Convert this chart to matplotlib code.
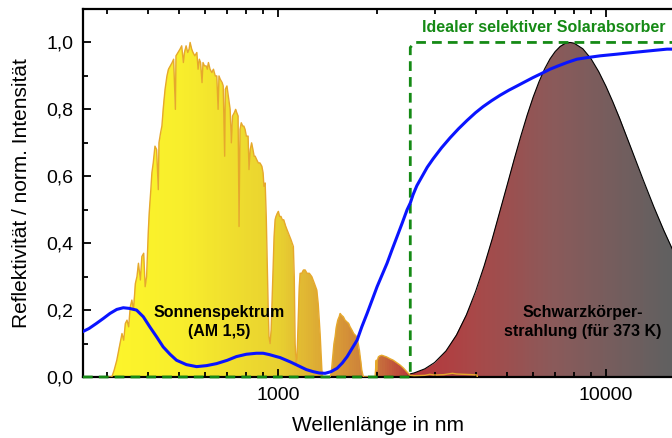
import numpy as np
import matplotlib
matplotlib.use("Agg")
import matplotlib.pyplot as plt
from matplotlib.colors import LinearSegmentedColormap
from matplotlib.patches import Polygon
from matplotlib.ticker import FixedLocator, FuncFormatter, NullFormatter

plt.rcParams["font.family"] = ["Liberation Sans", "DejaVu Sans"]

# AM 1.5 solar spectrum, normalised
solar_nm = [300, 311, 316, 322, 328, 334, 338, 342, 346, 350, 354, 358, 362, 367, 371,
            375, 380, 384, 389, 393, 397, 402, 405, 409, 412, 416, 421, 426, 431, 433,
            438, 442, 447, 452, 458, 463, 469, 475, 480, 486, 488, 495, 502, 508, 514,
            518, 524, 530, 535, 539, 545, 550, 557, 565, 570, 575, 580, 586, 590, 596,
            603, 608, 613, 620, 628, 635, 643, 650, 656, 660, 666, 675, 680, 687, 690,
            698, 705, 714, 720, 726, 735, 742, 748, 755, 760, 765, 772, 780, 786, 793,
            800, 810, 815, 822, 830, 838, 845, 851, 860, 870, 880, 892, 900, 905, 913,
            920, 926, 932, 938, 945, 952, 958, 965, 972, 979, 985, 995, 1002, 1010, 1020,
            1030, 1040, 1055, 1075, 1095, 1113, 1120, 1127, 1135, 1142, 1150, 1160, 1167, 1180, 1195,
            1209, 1225, 1245, 1267, 1290, 1312, 1325, 1335, 1343, 1352, 1360, 1368, 1440, 1450, 1458,
            1470, 1480, 1492, 1505, 1520, 1535, 1546, 1560, 1581, 1600, 1620, 1640, 1658, 1680, 1700,
            1720, 1738, 1755, 1770, 1785, 1800, 1820, 1975, 1985, 1992, 1998, 2005, 2015, 2022, 2040,
            2070, 2100, 2142, 2190, 2246, 2300, 2353, 2410, 2468, 2500, 2526, 2600, 2800, 2900, 3000,
            3200, 3400, 3500, 3700, 3900, 4045, 4050]
solar_val = [0.0, 0.0, 0.02, 0.05, 0.09, 0.13, 0.11, 0.16, 0.17, 0.15, 0.21, 0.23, 0.20, 0.28, 0.30,
             0.34, 0.29, 0.36, 0.37, 0.27, 0.30, 0.44, 0.50, 0.56, 0.61, 0.64, 0.69, 0.68, 0.56, 0.70,
             0.73, 0.75, 0.81, 0.86, 0.90, 0.92, 0.93, 0.94, 0.95, 0.80, 0.96, 0.97, 0.98, 0.99, 0.94,
             0.97, 0.99, 0.97, 0.98, 1.00, 0.98, 0.97, 0.96, 0.97, 0.92, 0.95, 0.94, 0.88, 0.94, 0.93,
             0.93, 0.92, 0.94, 0.92, 0.91, 0.92, 0.90, 0.90, 0.80, 0.90, 0.89, 0.88, 0.87, 0.66, 0.86,
             0.87, 0.84, 0.80, 0.70, 0.78, 0.79, 0.80, 0.79, 0.78, 0.45, 0.74, 0.76, 0.75, 0.75, 0.74,
             0.72, 0.72, 0.62, 0.68, 0.70, 0.68, 0.66, 0.66, 0.65, 0.64, 0.64, 0.63, 0.61, 0.57, 0.58,
             0.48, 0.35, 0.22, 0.12, 0.10, 0.14, 0.22, 0.32, 0.42, 0.47, 0.48, 0.49, 0.495, 0.48, 0.48,
             0.47, 0.47, 0.45, 0.43, 0.41, 0.39, 0.30, 0.10, 0.04, 0.06, 0.15, 0.27, 0.31, 0.31, 0.32,
             0.32, 0.31, 0.31, 0.30, 0.28, 0.26, 0.22, 0.17, 0.13, 0.07, 0.02, 0.0, 0.0, 0.01, 0.03,
             0.07, 0.10, 0.12, 0.15, 0.17, 0.18, 0.19, 0.185, 0.18, 0.17, 0.165, 0.16, 0.15, 0.14, 0.13,
             0.125, 0.12, 0.10, 0.08, 0.05, 0.02, 0.0, 0.0, 0.03, 0.05, 0.02, 0.05, 0.055, 0.06, 0.063,
             0.065, 0.063, 0.06, 0.055, 0.05, 0.043, 0.036, 0.027, 0.016, 0.01, 0.005, 0.004, 0.005, 0.008, 0.006,
             0.007, 0.011, 0.009, 0.008, 0.007, 0.006, 0.0]

# black body at 373 K, normalised
bb_nm = [2530, 2600, 2800, 3000, 3250, 3500, 3750, 4000, 4250, 4500, 5000, 5250, 5500, 5750,
         6000, 6250, 6500, 6750, 7000, 7250, 7500, 7770, 8000, 8500, 9000, 9500, 10000,
         10500, 11000, 12000, 13000, 14000, 15000, 16000]
bb_val = [0.0093, 0.0122, 0.0243, 0.0432, 0.0778, 0.1254, 0.1852, 0.2551, 0.3322, 0.4133,
          0.5753, 0.651, 0.7206, 0.783, 0.8373, 0.883, 0.9211, 0.951, 0.9729, 0.988, 0.9969,
          1.0, 0.9977, 0.9811, 0.9516, 0.913, 0.869, 0.822, 0.7734, 0.6775, 0.5883, 0.5085,
          0.4388, 0.3786]

# measured reflectivity
refl_nm = [254, 265, 279, 293, 307, 322, 337, 352, 370, 388, 406, 426, 446, 468, 490,
           525, 564, 605, 649, 700, 746, 800, 859, 900, 940, 988, 1014, 1090, 1167, 1220,
           1279, 1335, 1391, 1450, 1513, 1570, 1624, 1680, 1741, 1800, 1868, 1935, 2004, 2075,
           2149, 2225, 2306, 2390, 2474, 2530, 2580, 2650, 2750, 2850, 2969, 3150, 3346, 3550,
           3770, 4000, 4217, 4480, 4751, 5050, 5355, 5650, 5990, 6350, 6750, 7150, 7604, 8156,
           8800, 9588, 10800, 12085, 13600, 15346, 15900]
refl_val = [0.136, 0.145, 0.16, 0.175, 0.19, 0.202, 0.207, 0.205, 0.20, 0.18, 0.15, 0.12, 0.09,
            0.068, 0.05, 0.037, 0.031, 0.034, 0.04, 0.05, 0.061, 0.068, 0.071, 0.071, 0.067,
            0.061, 0.058, 0.045, 0.031, 0.022, 0.016, 0.012, 0.011, 0.016, 0.026, 0.042, 0.061,
            0.085, 0.11, 0.15, 0.19, 0.23, 0.27, 0.305, 0.34, 0.38, 0.42, 0.46, 0.50, 0.52,
            0.545, 0.572, 0.60, 0.627, 0.652, 0.685, 0.715, 0.742, 0.767, 0.79, 0.808, 0.826,
            0.842, 0.857, 0.87, 0.882, 0.895, 0.907, 0.92, 0.93, 0.94, 0.95, 0.955, 0.96, 0.965,
            0.97, 0.975, 0.98, 0.98]

# ideal selective absorber (step)
ideal_nm = [254, 2530, 2530, 2610, 15900]
ideal_val = [0.0, 0.0, 0.985, 1.0, 1.0]

# colour gradient along the wavelength axis
grad_nm = [254, 500, 1000, 1500, 2000, 2530, 4000, 7000, 15900]
grad_col = ["#fff72a", "#f8ee2c", "#e8d030", "#d89a36", "#c8743c",
            "#b8353a", "#a84848", "#8a5a5a", "#606060"]

green = "#158a15"
x_lo, x_hi = 254, 15900

fig = plt.figure(figsize=(6.72, 4.38), dpi=100)
ax = fig.add_axes([83 / 672, 61 / 438, 1 - 83 / 672, 368 / 438])
ax.set_xscale("log")
ax.set_xlim(x_lo, x_hi)
ax.set_ylim(0, 1.1)

lg = np.log10(grad_nm)
pos = (lg - lg[0]) / (lg[-1] - lg[0])
cmap = LinearSegmentedColormap.from_list("spec", list(zip(pos, grad_col)))
edges = np.logspace(np.log10(x_lo), np.log10(x_hi), 600)
centers = np.log10(np.sqrt(edges[:-1] * edges[1:]))
C = centers[np.newaxis, :]


def gradient_fill(xs, ys):
    pts = np.column_stack([xs, ys])
    pts = np.vstack([pts, [xs[-1], 0], [xs[0], 0]])
    patch = Polygon(pts, closed=True, facecolor="none", edgecolor="none",
                    transform=ax.transData)
    ax.add_patch(patch)
    mesh = ax.pcolormesh(edges, [0, 1.1], C, cmap=cmap, vmin=lg[0], vmax=lg[-1],
                         shading="flat", antialiased=False, zorder=1)
    mesh.set_clip_path(patch)


gradient_fill(solar_nm, solar_val)
gradient_fill(bb_nm, bb_val)

ax.plot(bb_nm, bb_val, color="black", lw=0.8, zorder=2)
ax.plot(solar_nm, solar_val, color="#e6a82c", lw=1.0, zorder=3)
ax.plot(ideal_nm, ideal_val, color=green, lw=2.0, dashes=(3.5, 2.2), zorder=5, clip_on=False)
ax.plot(refl_nm, refl_val, color="#0a14ff", lw=2.2, zorder=6)

ax.text(660, 0.165, "Sonnenspektrum\n(AM 1,5)", ha="center", va="center",
        fontsize=11.5, fontweight="bold", linespacing=1.3, zorder=7)
ax.text(8510, 0.165, "Schwarzkörper-\nstrahlung (für 373 K)", ha="center", va="center",
        fontsize=11.5, fontweight="bold", linespacing=1.3, zorder=7)
ax.text(6450, 1.045, "Idealer selektiver Solarabsorber", ha="center", va="center",
        fontsize=11.5, fontweight="bold", color=green, zorder=7)

ax.set_xlabel("Wellenlänge in nm", fontsize=15, labelpad=9)
ax.set_ylabel("Reflektivität / norm. Intensität", fontsize=15, labelpad=11)

ax.set_yticks([0, 0.2, 0.4, 0.6, 0.8, 1.0])
ax.yaxis.set_minor_locator(FixedLocator([0.1, 0.3, 0.5, 0.7, 0.9]))
ax.yaxis.set_major_formatter(FuncFormatter(lambda v, p: f"{v:.1f}".replace(".", ",")))
ax.set_xticks([1000, 10000])
ax.set_xticklabels(["1000", "10000"])
ax.xaxis.set_minor_formatter(NullFormatter())

ax.tick_params(which="both", direction="in", top=True, right=False, width=1.3,
               labelsize=14)
ax.tick_params(which="major", length=6, pad=7)
ax.tick_params(which="minor", length=3.5)
for side in ("left", "bottom", "top"):
    ax.spines[side].set_linewidth(1.6)
ax.spines["right"].set_visible(False)

fig.savefig("out.png", dpi=100)
